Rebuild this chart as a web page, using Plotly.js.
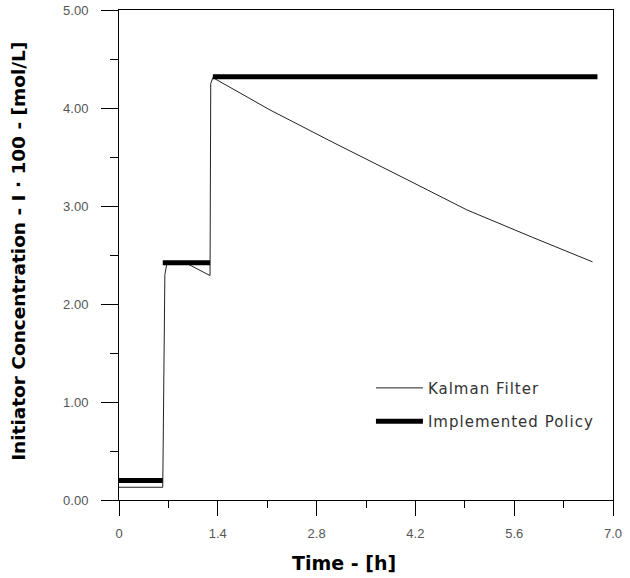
<!DOCTYPE html>
<html>
<head>
<meta charset="utf-8">
<script src="https://cdn.plot.ly/plotly-3.0.1.min.js"></script>
<style>html,body{margin:0;padding:0;background:#fff;}#chart{width:630px;height:578px;}
.legendtext{letter-spacing:1px;}</style>
</head>
<body>
<div id="chart"></div>
<script>
// Kalman Filter estimate (thin line)
const kalmanTime = [0, 0.62, 0.65, 0.68, 0.97, 1.29, 1.30, 1.33, 2.14, 3.03, 4.08, 4.93, 5.86, 6.71];
const kalmanConc = [0.13, 0.13, 2.30, 2.42, 2.41, 2.29, 4.25, 4.31, 3.98, 3.65, 3.27, 2.96, 2.68, 2.43];
// Implemented Policy (thick step segments)
const policyTime = [0, 0.62, null, 0.62, 1.29, null, 1.33, 6.78];
const policyConc = [0.20, 0.20, null, 2.42, 2.42, null, 4.32, 4.32];
// Tick labels
const xTickVals = [0, 1.4, 2.8, 4.2, 5.6, 7.0];
const xTickText = ["0", "1.4", "2.8", "4.2", "5.6", "7.0"];
const yTickVals = [0, 1, 2, 3, 4, 5];
const yTickText = ["0.00", "1.00", "2.00", "3.00", "4.00", "5.00"];

const traces = [
  {x: kalmanTime, y: kalmanConc, mode: 'lines', name: 'Kalman Filter',
   line: {color: '#222', width: 1}, legendgroup: 'a'},
  {x: policyTime, y: policyConc, mode: 'lines', name: 'Implemented Policy',
   line: {color: '#000', width: 5}, connectgaps: false, legendgroup: 'b'}
];

const tickFont = {family: 'Liberation Sans, Arial, sans-serif', size: 13, color: '#555'};
const layout = {
  width: 630, height: 578,
  margin: {l: 119, r: 17, t: 10, b: 78},
  paper_bgcolor: '#fff', plot_bgcolor: '#fff',
  showlegend: true,
  legend: {x: 0.51, y: 0.262, xanchor: 'left', yanchor: 'top', bgcolor: 'rgba(0,0,0,0)',
           font: {family: 'DejaVu Sans, sans-serif', size: 15, color: '#333'},
           traceorder: 'grouped', tracegroupgap: 11, itemwidth: 47},
  xaxis: {range: [0, 7], tickmode: 'array', tickvals: xTickVals, ticktext: xTickText,
          showline: true, mirror: true, linecolor: '#000', linewidth: 1,
          ticks: 'outside', ticklen: 15, tickcolor: '#000', tickwidth: 1,
          showgrid: false, zeroline: false, tickfont: tickFont, ticklabelstandoff: 6,
          minor: {tick0: 0, dtick: 0.7, ticks: 'outside', ticklen: 7, tickcolor: '#000', showgrid: false}},
  yaxis: {range: [0, 5], tickmode: 'array', tickvals: yTickVals, ticktext: yTickText,
          showline: true, mirror: true, linecolor: '#000', linewidth: 1,
          ticks: 'outside', ticklen: 17, tickcolor: '#000', tickwidth: 1,
          showgrid: false, zeroline: false, tickfont: tickFont, ticklabelstandoff: 10,
          minor: {tick0: 0, dtick: 0.5, ticks: 'outside', ticklen: 8, tickcolor: '#000', showgrid: false}},
  annotations: [
    {text: '<b>Time - [h]</b>', xref: 'paper', yref: 'paper', x: 0.455, y: -0.128,
     xanchor: 'center', yanchor: 'middle', showarrow: false,
     font: {family: 'DejaVu Sans, sans-serif', size: 19, color: '#000'}},
    {text: '<b>Initiator Concentration - I · 100 - [mol/L]</b>', xref: 'paper', yref: 'paper',
     x: -0.205, y: 0.508, xanchor: 'center', yanchor: 'middle', textangle: -90, showarrow: false,
     font: {family: 'DejaVu Sans, sans-serif', size: 18.5, color: '#000'}}
  ]
};
Plotly.newPlot('chart', traces, layout, {displayModeBar: false, staticPlot: true});
</script>
</body>
</html>
